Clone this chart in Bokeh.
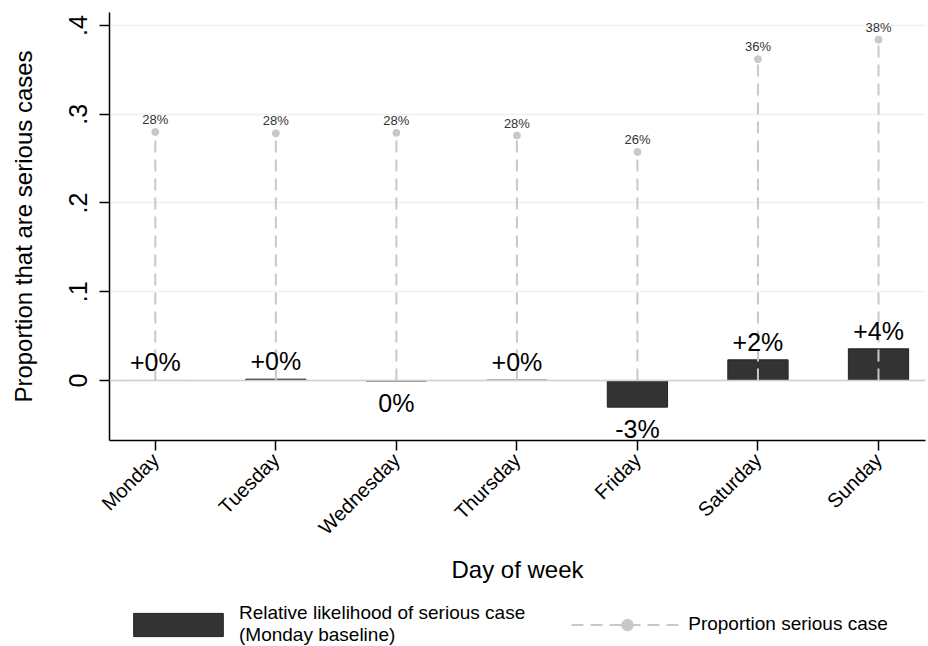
import math
from bokeh.plotting import figure
from bokeh.layouts import column
from bokeh.models import (ColumnDataSource, Range1d, FixedTicker, Span, Legend, LegendItem)
from bokeh.core.properties import value
from bokeh.embed import file_html
from bokeh.resources import INLINE

days = ["Monday", "Tuesday", "Wednesday", "Thursday", "Friday", "Saturday", "Sunday"]
rel_change = [0.0, 0.0015, -0.0006, 0.0004, -0.030, 0.0233, 0.0357]
rel_labels = ["+0%", "+0%", "0%", "+0%", "-3%", "+2%", "+4%"]
prop_serious = [0.280, 0.2785, 0.279, 0.276, 0.2575, 0.362, 0.384]
prop_labels = ["28%", "28%", "28%", "28%", "26%", "36%", "38%"]
y_ticks = [0.0, 0.1, 0.2, 0.3, 0.4]
y_tick_labels = ["0", ".1", ".2", ".3", ".4"]
legend_labels = ["Relative likelihood of serious case\n(Monday baseline)", "Proportion serious case"]

FONT = "Liberation Sans"
BAR_STYLE = dict(fill_color="#333333", line_color="#222222", line_width=1)
SEG_STYLE = dict(line_color="#c8c8c8", line_width=2, line_dash="12 7")
DOT_STYLE = dict(size=7, fill_color="#c8c8c8", line_color="#c8c8c8")

xs = list(range(1, len(days) + 1))
above = [lab.startswith("+") for lab in rel_labels]

src = ColumnDataSource(dict(
    x=xs, rel=rel_change, rel_lab=rel_labels,
    base=["bottom" if a else "top" for a in above],
    yoff=[-4 if a else 8 for a in above],
    zero=[0.0] * len(xs), prop=prop_serious, prop_lab=prop_labels,
))

p = figure(width=928, height=603, output_backend="svg", toolbar_location=None,
           x_range=Range1d(0.62, 7.39), y_range=Range1d(-0.0676, 0.4146),
           min_border_left=109, min_border_right=3, min_border_top=12, min_border_bottom=163)
p.background_fill_color = "white"
p.border_fill_color = "white"
p.outline_line_color = None

# grid
p.xgrid.grid_line_color = None
p.ygrid.grid_line_color = "#eaf2f3"
p.ygrid.grid_line_width = 1.5
p.ygrid.ticker = FixedTicker(ticks=y_ticks)
p.add_layout(Span(location=0, dimension="width", line_color="#cfcfcf", line_width=1.5))

p.vbar(x="x", top="rel", bottom=0, width=0.5, source=src, **BAR_STYLE)
p.segment(x0="x", y0="zero", x1="x", y1="prop", source=src, **SEG_STYLE)
p.scatter(x="x", y="prop", source=src, **DOT_STYLE)

p.text(x="x", y="prop", text="prop_lab", source=src, text_align="center", text_baseline="bottom",
       y_offset=-5, text_font=value(FONT), text_font_size="13px", text_color="#333333")
p.text(x="x", y="rel", text="rel_lab", source=src, text_align="center", text_baseline="base",
       y_offset="yoff", text_font=value(FONT), text_font_size="25px", text_color="black")

# axes
p.xaxis.ticker = FixedTicker(ticks=xs)
p.xaxis.major_label_overrides = {x: d for x, d in zip(xs, days)}
p.xaxis.major_label_orientation = math.pi / 4
p.xaxis.major_label_text_font = FONT
p.xaxis.major_label_text_font_size = "20px"
p.xaxis.axis_label = "Day of week"
p.xaxis.axis_label_standoff = 7

p.yaxis.ticker = FixedTicker(ticks=y_ticks)
p.yaxis.major_label_overrides = {t: l for t, l in zip(y_ticks, y_tick_labels)}
p.yaxis.major_label_orientation = "vertical"
p.yaxis.major_label_text_font = FONT
p.yaxis.major_label_text_font_size = "25px"
p.yaxis.axis_label = "Proportion that are serious cases"
p.yaxis.axis_label_standoff = 30

for ax in (p.xaxis[0], p.yaxis[0]):
    ax.axis_line_color = "black"
    ax.axis_line_width = 1.5
    ax.major_tick_line_color = "black"
    ax.major_tick_line_width = 1.5
    ax.major_tick_out = 10
    ax.major_tick_in = 0
    ax.minor_tick_line_color = None
    ax.major_label_text_color = "black"
    ax.axis_label_text_font = FONT
    ax.axis_label_text_font_size = "24px"
    ax.axis_label_text_font_style = "normal"
    ax.axis_label_text_color = "black"
p.xaxis.major_label_standoff = 6
p.yaxis.major_label_standoff = 12

# legend panel: same data drawn on ranges that keep the marks out of view; only the keys show
lg = figure(width=928, height=43, output_backend="svg", toolbar_location=None,
            x_range=Range1d(100, 101), y_range=Range1d(100, 101),
            min_border_left=0, min_border_right=0, min_border_top=0, min_border_bottom=0)
lg.axis.visible = False
lg.grid.visible = False
lg.outline_line_color = None
lg.background_fill_color = "white"
lg.border_fill_color = "white"
lb = lg.vbar(x="x", top="rel", bottom=0, width=0.5, source=src, **BAR_STYLE)
ls = lg.segment(x0="x", y0="zero", x1="x", y1="prop", source=src, **SEG_STYLE)
ld = lg.scatter(x="x", y="prop", source=src, **DOT_STYLE)

legend = Legend(items=[
    LegendItem(label=legend_labels[0], renderers=[lb]),
    LegendItem(label=legend_labels[1], renderers=[ls, ld]),
], orientation="horizontal", location=(13, 0), padding=0, margin=0, spacing=46,
    glyph_width=112, glyph_height=29, label_standoff=5,
    label_text_font=FONT, label_text_font_size="19px", label_text_color="black",
    label_text_line_height=1.0,
    border_line_color=None, background_fill_alpha=0)
lg.add_layout(legend, "center")

layout = column(p, lg, spacing=0)
open("out.html", "w").write(file_html(layout, INLINE))
